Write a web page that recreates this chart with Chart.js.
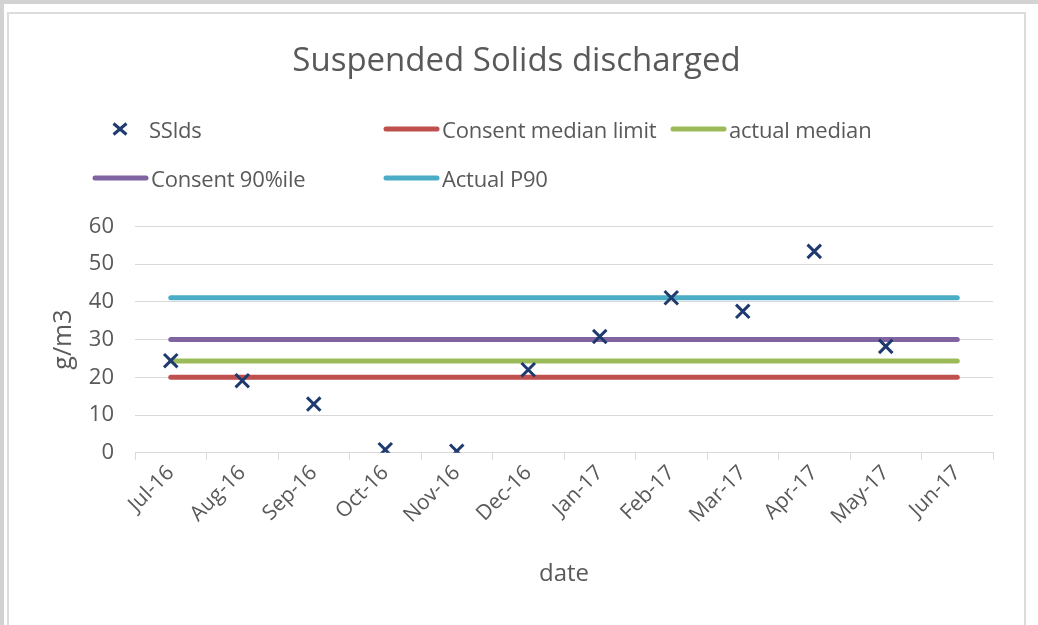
<!DOCTYPE html>
<html>
<head>
<meta charset="utf-8">
<script src="https://cdn.jsdelivr.net/npm/chart.js@4.4.1/dist/chart.umd.min.js"></script>
<style>
  html, body { margin: 0; padding: 0; background: #fff; }
  #wrap { position: relative; width: 1038px; height: 625px; overflow: hidden; }
  #outer { position: absolute; left: 0; top: 0; width: 1038px; height: 625px; box-sizing: border-box;
           border-left: 4px solid #d2d2d2; border-top: 4px solid #d2d2d2; }
  #inner { position: absolute; left: 7px; top: 12px; width: 1019px; height: 616px; box-sizing: border-box;
           border: 2px solid #dcdcdc; }
  #chart { position: absolute; left: 0; top: 0; }
  #legend { position: absolute; left: 92px; top: 104px; display: grid;
            grid-template-columns: 291px 287px auto; grid-auto-rows: 49px;
            font-family: "Open Sans", sans-serif; font-size: 22px; letter-spacing: -0.2px; color: #595959; }
  .li { display: flex; align-items: center; white-space: nowrap; }
  .sym { width: 57px; height: 20px; margin-right: 2px; flex: none; }
</style>
</head>
<body>
<div id="wrap">
  <div id="outer"></div>
  <div id="inner"></div>
  <canvas id="chart" width="1038" height="625"></canvas>
  <div id="legend"></div>
</div>
<script>
const categories = ['Jul-16','Aug-16','Sep-16','Oct-16','Nov-16','Dec-16','Jan-17','Feb-17','Mar-17','Apr-17','May-17','Jun-17'];
const ssldsValues = [24.4, 19.1, 12.9, 0.8, 0.4, 22.0, 30.8, 41.1, 37.5, 53.4, 28.2, null];
const consentMedianLimit = [20, 20, 20, 20, 20, 20, 20, 20, 20, 20, 20, 20];
const actualMedian = [24.3, 24.3, 24.3, 24.3, 24.3, 24.3, 24.3, 24.3, 24.3, 24.3, 24.3, 24.3];
const consent90 = [30, 30, 30, 30, 30, 30, 30, 30, 30, 30, 30, 30];
const actualP90 = [41.1, 41.1, 41.1, 41.1, 41.1, 41.1, 41.1, 41.1, 41.1, 41.1, 41.1, 41.1];
const yTicks = [0, 10, 20, 30, 40, 50, 60];

const gray = '#595959';
const gridColor = '#d9d9d9';
const font = 'Open Sans';

function lineDs(label, data, color) {
  return { label, data, borderColor: color, backgroundColor: color, borderWidth: 5,
           borderCapStyle: 'round', pointRadius: 0, pointHoverRadius: 0, fill: false, tension: 0 };
}

const datasets = [
  { label: 'SSlds', data: ssldsValues, showLine: false, pointStyle: 'crossRot',
    pointRadius: 9.5, pointHoverRadius: 9.5, pointBorderWidth: 3, borderColor: '#1f3a6e', backgroundColor: '#1f3a6e' },
  lineDs('Consent median limit', consentMedianLimit, '#c0504d'),
  lineDs('actual median', actualMedian, '#9bbb59'),
  lineDs('Consent 90%ile', consent90, '#8064a2'),
  lineDs('Actual P90', actualP90, '#4bacc6')
];

const htmlLegend = {
  id: 'htmlLegend',
  afterUpdate(chart) {
    const box = document.getElementById('legend');
    box.innerHTML = '';
    chart.data.datasets.forEach(ds => {
      const item = document.createElement('div');
      item.className = 'li';
      let svg;
      if (ds.pointStyle === 'crossRot') {
        svg = '<svg class="sym" viewBox="0 0 57 20"><path d="M21.5 4.5 L34.5 15.5 M34.5 4.5 L21.5 15.5" stroke="' + ds.borderColor + '" stroke-width="3"/></svg>';
      } else {
        svg = '<svg class="sym" viewBox="0 0 57 20"><line x1="3" y1="10" x2="54" y2="10" stroke="' + ds.borderColor + '" stroke-width="5" stroke-linecap="round"/></svg>';
      }
      item.innerHTML = svg + '<span' + (ds.pointStyle === 'crossRot' ? ' style="margin-left:-2px"' : '') + '>' + ds.label + '</span>';
      box.appendChild(item);
    });
  }
};

new Chart(document.getElementById('chart'), {
  type: 'line',
  data: { labels: categories, datasets },
  plugins: [htmlLegend],
  options: {
    responsive: false,
    animation: false,
    layout: { padding: { left: 40, right: 45, top: 0, bottom: 30 } },
    plugins: {
      legend: { display: false },
      tooltip: { enabled: false },
      title: { display: true, text: 'Suspended Solids discharged', color: gray,
               font: { family: font, size: 33, weight: 'normal' }, padding: { top: 42, bottom: 144.9 } }
    },
    scales: {
      x: {
        type: 'category',
        offset: true,
        grid: { display: true, offset: true, drawOnChartArea: false, drawTicks: true, tickLength: 7, color: gridColor },
        border: { display: true, color: gridColor, width: 1 },
        ticks: { color: gray, font: { family: font, size: 21 }, maxRotation: 45, minRotation: 45, autoSkip: false, padding: 1 },
        title: { display: true, text: 'date', color: gray, font: { family: font, size: 24 }, padding: { top: 4, bottom: 6 } },
        afterFit(scale) { scale.height = 142.3; }
      },
      y: {
        min: 0, max: 60,
        afterBuildTicks(scale) { scale.ticks = yTicks.map(v => ({ value: v })); },
        grid: { color: gridColor, drawTicks: false, lineWidth: 1 },
        border: { display: false },
        ticks: { color: gray, font: { family: font, size: 22 }, padding: 21 },
        title: { display: true, text: 'g/m3', color: gray, font: { family: font, size: 25 }, padding: { top: 9, bottom: 0 } },
        afterFit(scale) { scale.width = 95; }
      }
    }
  }
});
</script>
</body>
</html>
